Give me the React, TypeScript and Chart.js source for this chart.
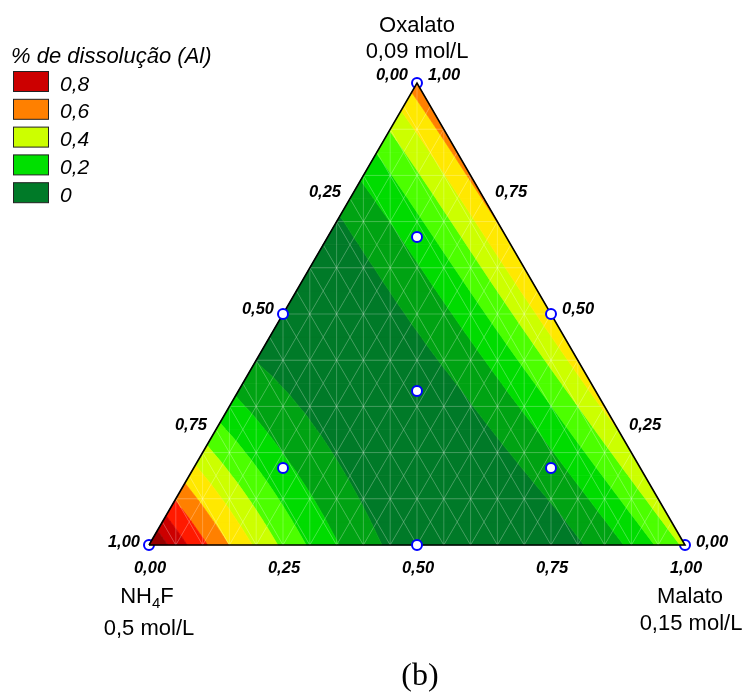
import React, { useEffect, useRef } from 'react';
import { Chart, registerables } from 'chart.js';
Chart.register(...registerables);

const H = Math.sqrt(3) / 2;

// Components: a = NH4F, b = Malato, c = Oxalato (mixture fractions)
const designNH4F = [1, 0, 0, 0.5, 0.5, 0, 1 / 3, 2 / 3, 1 / 6, 1 / 6];
const designMalato = [0, 1, 0, 0.5, 0, 0.5, 1 / 3, 1 / 6, 2 / 3, 1 / 6];
const designOxalato = [0, 0, 1, 0, 0.5, 0.5, 1 / 3, 1 / 6, 1 / 6, 2 / 3];

// Scheffé-type response model for "% de dissolução (Al)", coefficients
const modelTerms = ['a', 'b', 'c', 'ab', 'ac', 'bc', 'ab(a-b)', 'ac(a-c)', 'bc(b-c)',
  'ab(a-b)²', 'ac(a-c)²', 'bc(b-c)²', 'a²bc', 'ab²c', 'abc²'];
const modelCoefficients = [0.901, 0.320, 0.552, -2.680, -3.200, 0.132, 0.255, 0.053, 0.045,
  0.051, 0.180, -0.091, 0.871, -0.877, -0.541];

const contourLevels = [0, 0.1, 0.2, 0.3, 0.4, 0.5, 0.6, 0.7, 0.8];
const bandColors = ['#007a28', '#00a313', '#00dc00', '#4cff00', '#ccff00', '#ffe800', '#ff8000', '#ff1a00', '#cc0000', '#990000'];
const legendLabels = ['0,8', '0,6', '0,4', '0,2', '0'];
const legendColors = ['#cc0000', '#ff8000', '#ccff00', '#00e000', '#007a28'];
const tickValues = [0, 0.25, 0.5, 0.75, 1];
const tickLabels = ['0,00', '0,25', '0,50', '0,75', '1,00'];

function terms(a: number, b: number, c: number) {
  return [a, b, c, a * b, a * c, b * c, a * b * (a - b), a * c * (a - c), b * c * (b - c),
    a * b * (a - b) ** 2, a * c * (a - c) ** 2, b * c * (b - c) ** 2, a * a * b * c, a * b * b * c, a * b * c * c];
}

function model(a: number, b: number, c: number) {
  const t = terms(a, b, c); let s = 0;
  for (let i = 0; i < modelTerms.length; i++) s += t[i] * modelCoefficients[i];
  return s;
}

const SANS = "'Liberation Sans', Arial, sans-serif";

function pix(chart: any, a: number, b: number, c: number) {
  return [chart.scales.x.getPixelForValue(b + c / 2), chart.scales.y.getPixelForValue(c * H)];
}

function clip(poly: any[], level: number, sign: number) {
  const out: any[] = [];
  for (let i = 0; i < poly.length; i++) {
    const p = poly[i], q = poly[(i + 1) % poly.length];
    const sp = sign * (p.v - level), sq = sign * (q.v - level);
    if (sp >= 0) out.push(p);
    if ((sp >= 0) !== (sq >= 0)) {
      const t = sp / (sp - sq);
      out.push({ x: p.x + t * (q.x - p.x), y: p.y + t * (q.y - p.y), v: level });
    }
  }
  return out;
}

function drawContour(chart: any) {
  const ctx = chart.ctx; const N = 20;
  const g: any[][] = [];
  for (let i = 0; i <= N; i++) {
    g[i] = [];
    for (let j = 0; j <= N - i; j++) {
      const c = i / N, b = j / N, a = Math.max(0, 1 - b - c);
      const [x, y] = pix(chart, a, b, c);
      g[i][j] = { x, y, v: model(a, b, c) };
    }
  }
  const tris: any[][] = [];
  for (let i = 0; i < N; i++) for (let j = 0; j < N - i; j++) {
    tris.push([g[i][j], g[i][j + 1], g[i + 1][j]]);
    if (j < N - 1 - i) tris.push([g[i][j + 1], g[i + 1][j + 1], g[i + 1][j]]);
  }
  ctx.save();
  tris.forEach(tri => {
    for (let k = 0; k < bandColors.length; k++) {
      let poly = tri;
      if (k > 0) poly = clip(poly, contourLevels[k - 1], 1);
      if (poly.length < 3) continue;
      if (k < contourLevels.length) poly = clip(poly, contourLevels[k], -1);
      if (poly.length < 3) continue;
      ctx.beginPath(); ctx.moveTo(poly[0].x, poly[0].y);
      for (let m = 1; m < poly.length; m++) ctx.lineTo(poly[m].x, poly[m].y);
      ctx.closePath();
      ctx.fillStyle = bandColors[k]; ctx.fill();
      ctx.strokeStyle = bandColors[k]; ctx.lineWidth = 0.7; ctx.stroke();
    }
  });
  // faint mesh
  ctx.strokeStyle = 'rgba(255,255,255,0.24)'; ctx.lineWidth = 1;
  const seg = (p: number[], q: number[]) => {
    const [x1, y1] = pix(chart, p[0], p[1], p[2]); const [x2, y2] = pix(chart, q[0], q[1], q[2]);
    ctx.beginPath(); ctx.moveTo(x1, y1); ctx.lineTo(x2, y2); ctx.stroke();
  };
  for (let k = 1; k < 10; k++) { const c = k / 10; seg([1 - c, 0, c], [0, 1 - c, c]); }
  for (let k = 1; k < 20; k++) {
    const X = k / 20; const cTop = X <= 0.5 ? 2 * X : 2 * (1 - X);
    seg([1 - X, X, 0], [1 - (X - cTop / 2) - cTop, X - cTop / 2, cTop]);
    const v = k / 20;
    seg([1 - v, v, 0], [0, v, 1 - v]);
    seg([v, 1 - v, 0], [v, 0, 1 - v]);
  }
  ctx.restore();
}

function drawTexts(chart: any) {
  const ctx = chart.ctx;
  ctx.save();
  ctx.fillStyle = '#000';
  ctx.textBaseline = 'alphabetic';
  ctx.font = `bold italic 16.5px ${SANS}`;
  tickValues.forEach((v, i) => {
    // left axis: NH4F
    let [x, y] = pix(chart, v, 0, 1 - v);
    ctx.textAlign = 'right'; ctx.fillText(tickLabels[i], x - 9, y + 2 - 5 * (1 - v));
    // right axis: Oxalato
    [x, y] = pix(chart, 0, 1 - v, v);
    ctx.textAlign = 'left'; ctx.fillText(tickLabels[i], x + 11, y + 2 - 5 * v);
    // bottom axis: Malato
    [x, y] = pix(chart, 1 - v, v, 0);
    ctx.textAlign = 'center'; ctx.fillText(tickLabels[i], x + 1, y + 28);
  });
  ctx.font = `22px ${SANS}`; ctx.textAlign = 'center';
  const [tx, ty] = pix(chart, 0, 0, 1);
  ctx.fillText('Oxalato', tx, ty - 51);
  ctx.fillText('0,09 mol/L', tx, ty - 25);
  const [mx, my] = pix(chart, 0, 1, 0);
  ctx.fillText('Malato', mx + 5, my + 58);
  ctx.fillText('0,15 mol/L', mx + 6, my + 85);
  const [nx, ny] = pix(chart, 1, 0, 0);
  ctx.fillText('0,5 mol/L', nx, ny + 90);
  // NH4F with subscript
  ctx.textAlign = 'left';
  const w1 = ctx.measureText('NH').width, w3 = ctx.measureText('F').width;
  ctx.font = `15px ${SANS}`; const w2 = ctx.measureText('4').width;
  const start = nx - 2 - (w1 + w2 + w3) / 2;
  ctx.font = `22px ${SANS}`; ctx.fillText('NH', start, ny + 58);
  ctx.font = `15px ${SANS}`; ctx.fillText('4', start + w1, ny + 63);
  ctx.font = `22px ${SANS}`; ctx.fillText('F', start + w1 + w2, ny + 58);
  // caption
  ctx.font = `32px 'Liberation Serif', 'Times New Roman', serif`; ctx.textAlign = 'center';
  ctx.fillText('(b)', tx + 3, 685);
  // legend
  ctx.textAlign = 'left';
  ctx.font = `italic 22px ${SANS}`;
  ctx.fillText('% de dissolução (Al)', 11, 63);
  ctx.font = `italic 21px ${SANS}`;
  legendLabels.forEach((l, i) => {
    const top = 71 + i * 27.8;
    ctx.fillStyle = legendColors[i]; ctx.fillRect(13.5, top + 0.5, 35, 20);
    ctx.strokeStyle = '#222'; ctx.lineWidth = 1; ctx.strokeRect(13.5, top + 0.5, 35, 20);
    ctx.fillStyle = '#000'; ctx.fillText(l, 60, top + 19.5);
  });
  ctx.restore();
}

const ternaryPlugin = {
  id: 'ternary',
  afterDatasetDraw(chart: any, args: any) { if (args.index === 0) drawContour(chart); },
  afterDraw(chart: any) { drawTexts(chart); },
};

export default function App() {
  const ref = useRef<HTMLCanvasElement>(null);
  useEffect(() => {
    const toPt = (i: number) => ({ x: designMalato[i] + designOxalato[i] / 2, y: designOxalato[i] * H });
    const idx = designNH4F.map((_, i) => i);
    const isVertex = (i: number) => Math.max(designNH4F[i], designMalato[i], designOxalato[i]) === 1;
    const vertexPts = idx.filter(isVertex).map(toPt);
    const otherPts = idx.filter(i => !isVertex(i)).map(toPt);
    const outline = [0, 1, 2, 0].map(toPt);
    const chart = new Chart(ref.current as HTMLCanvasElement, {
      type: 'scatter',
      data: {
        datasets: [
          { data: vertexPts, order: 3, pointRadius: 5, pointBackgroundColor: '#fff', pointBorderColor: '#0000ff', pointBorderWidth: 2 } as any,
          { data: outline, order: 2, showLine: true, borderColor: '#000', borderWidth: 1.6, pointRadius: 0, fill: false } as any,
          { data: otherPts, order: 1, pointRadius: 5, pointBackgroundColor: '#fff', pointBorderColor: '#0000ff', pointBorderWidth: 2 } as any,
        ],
      },
      options: {
        responsive: false, animation: false, events: [],
        layout: { padding: 0, autoPadding: false },
        plugins: { legend: { display: false }, tooltip: { enabled: false } },
        scales: {
          x: { type: 'linear', display: false, min: -149 / 536, max: (744 - 149) / 536 },
          y: { type: 'linear', display: false, min: 545 * H / 462 - 695 * H / 462, max: 545 * H / 462 },
        },
      },
      plugins: [ternaryPlugin],
    });
    return () => chart.destroy();
  }, []);
  return (
    <div style={{ position: 'fixed', left: 0, top: 0, width: 744, height: 695, background: '#fff' }}>
      <canvas ref={ref} width={744} height={695} style={{ display: 'block' }} />
    </div>
  );
}
